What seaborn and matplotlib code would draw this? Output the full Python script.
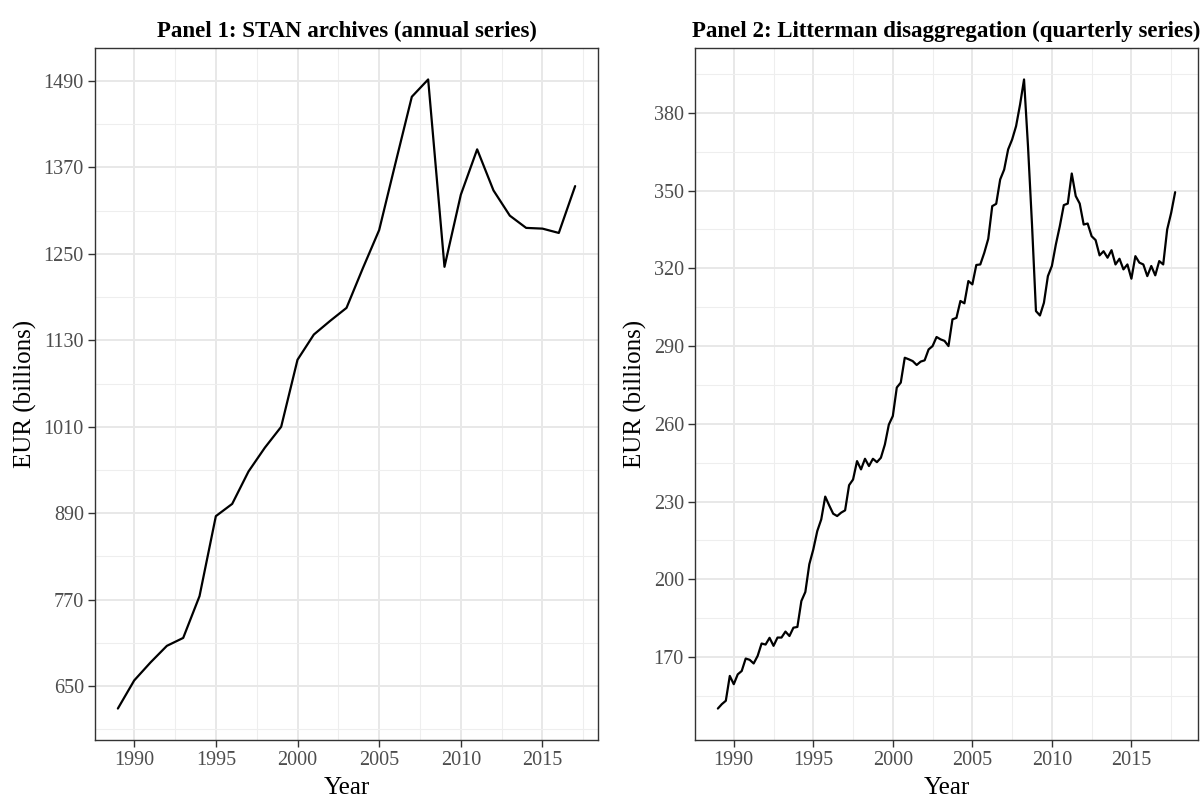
import numpy as np
import pandas as pd
import matplotlib
matplotlib.use("Agg")
import matplotlib.pyplot as plt
from matplotlib.ticker import FixedLocator
import seaborn as sns

# ---------------- data ----------------
annual_years = list(range(1989, 2018))
annual_values = [619, 658, 683, 706, 717, 775, 886, 903, 948, 981,
                 1010, 1103, 1138, 1157, 1175, 1230, 1283, 1376, 1468, 1492,
                 1232, 1332, 1395, 1338, 1303, 1286, 1285, 1279, 1344]

quarter_start_year = 1989
quarterly_values = [
    150.1, 151.8, 153.1, 162.7,   # 1989
    159.5, 163.3, 164.6, 169.4,   # 1990
    168.9, 167.5, 170.4, 175.2,   # 1991
    174.8, 177.4, 174.3, 177.5,   # 1992
    177.5, 179.8, 178.1, 181.3,   # 1993
    181.6, 191.6, 195.1, 205.8,   # 1994
    211.5, 218.6, 223.1, 231.9,   # 1995
    228.5, 225.3, 224.4, 225.7,   # 1996
    226.6, 236.3, 238.5, 245.6,   # 1997
    242.4, 246.5, 243.7, 246.5,   # 1998
    245.2, 246.9, 252.0, 259.7,   # 1999
    263.0, 274.0, 275.9, 285.5,   # 2000
    284.9, 284.2, 282.7, 284.0,   # 2001
    284.5, 288.7, 290.0, 293.5,   # 2002
    292.6, 292.0, 290.0, 300.3,   # 2003
    300.9, 307.4, 306.5, 315.1,   # 2004
    313.8, 321.3, 321.5, 326.0,   # 2005
    331.4, 344.0, 344.9, 354.3,   # 2006
    358.1, 365.9, 369.7, 374.9,   # 2007
    383.2, 392.9, 367.0, 337.0,   # 2008
    303.5, 301.8, 306.7, 317.0,   # 2009
    320.9, 329.2, 336.3, 344.4,   # 2010
    345.0, 356.6, 347.9, 345.0,   # 2011
    336.9, 337.3, 332.4, 330.9,   # 2012
    325.0, 326.6, 324.1, 327.0,   # 2013
    321.5, 323.7, 319.6, 321.5,   # 2014
    316.0, 324.7, 322.2, 321.5,   # 2015
    317.0, 320.9, 317.3, 322.8,   # 2016
    321.5, 335.0, 341.4, 349.4,   # 2017
]
quarter_positions = quarter_start_year + np.arange(len(quarterly_values)) / 4.0

x_ticks = [1990, 1995, 2000, 2005, 2010, 2015]
y_ticks_annual = [650, 770, 890, 1010, 1130, 1250, 1370, 1490]
y_ticks_quarterly = [170, 200, 230, 260, 290, 320, 350, 380]

titles = ["Panel 1: STAN archives (annual series)",
          "Panel 2: Litterman disaggregation (quarterly series)"]
x_label = "Year"
y_label = "EUR (billions)"

df_a = pd.DataFrame({"Year": annual_years, "Value": annual_values})
df_q = pd.DataFrame({"Year": quarter_positions, "Value": quarterly_values})

# ---------------- style ----------------
sns.set_theme(style="whitegrid")
plt.rcParams["font.family"] = ["Liberation Serif", "DejaVu Serif"]

W, H = 1203, 798
fig = plt.figure(figsize=(W / 100, H / 100), dpi=100)
fig.patch.set_facecolor("white")

ax_boxes = [(95, 48, 598, 740), (695, 48, 1198, 740)]


def expand(lo, hi, f=0.05):
    r = hi - lo
    return lo - f * r, hi + f * r


def style_axis(ax, df, yticks, title):
    sns.lineplot(data=df, x="Year", y="Value", ax=ax, color="black",
                 linewidth=1.6, estimator=None)
    ax.set_xlim(*expand(df["Year"].min(), df["Year"].max()))
    ax.set_ylim(*expand(df["Value"].min(), df["Value"].max()))
    ax.set_xticks(x_ticks)
    ax.set_yticks(yticks)
    xs = np.diff(x_ticks)[0]
    ys = np.diff(yticks)[0]
    xmin = [x_ticks[0] - xs / 2] + [t + xs / 2 for t in x_ticks]
    ymin = [yticks[0] - ys / 2] + [t + ys / 2 for t in yticks]
    lo, hi = ax.get_xlim()
    ax.xaxis.set_minor_locator(FixedLocator([v for v in xmin if lo < v < hi]))
    lo, hi = ax.get_ylim()
    ax.yaxis.set_minor_locator(FixedLocator([v for v in ymin if lo < v < hi]))
    ax.set_facecolor("white")
    ax.grid(which="major", color="#E8E8E8", linewidth=1.4)
    ax.grid(which="minor", color="#EEEEEE", linewidth=0.8)
    ax.set_axisbelow(True)
    for s in ax.spines.values():
        s.set_visible(True)
        s.set_color("#333333")
        s.set_linewidth(1.0)
    ax.tick_params(which="major", length=5, width=1.0, color="#333333",
                   labelsize=14.5, labelcolor="#4D4D4D", pad=3,
                   bottom=True, left=True)
    ax.tick_params(which="minor", length=0)
    ax.set_xlabel(x_label, fontsize=18, color="black", labelpad=5)
    ax.set_ylabel(y_label, fontsize=18, color="black", labelpad=5)
    ax.set_title(title, fontsize=16.5, fontweight="bold", color="black", pad=8)


for (l, t, r, b), df, yt, title in zip(ax_boxes, [df_a, df_q],
                                       [y_ticks_annual, y_ticks_quarterly], titles):
    ax = fig.add_axes([l / W, (H - b) / H, (r - l) / W, (b - t) / H])
    style_axis(ax, df, yt, title)

fig.savefig("out.png", dpi=100, facecolor="white")
